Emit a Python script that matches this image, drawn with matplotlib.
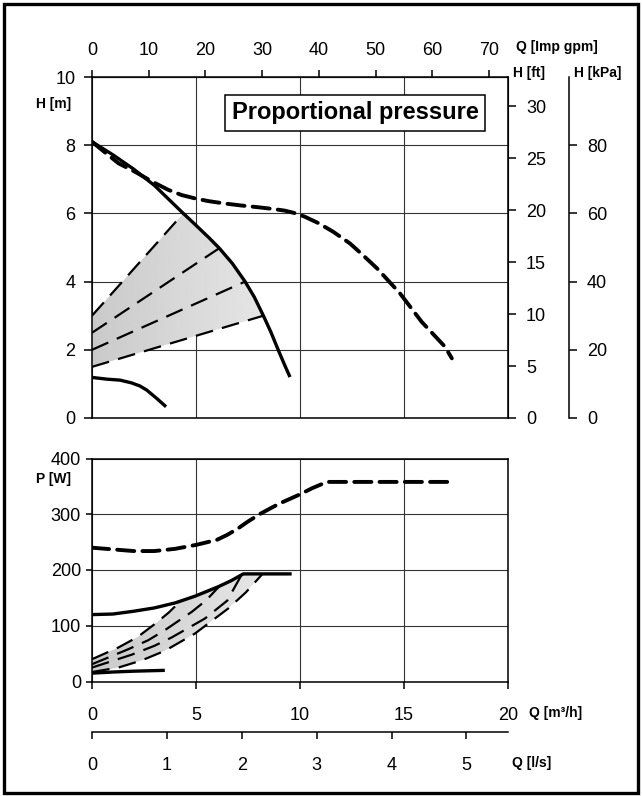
import numpy as np
import matplotlib
matplotlib.use('Agg')
import matplotlib.pyplot as plt
from matplotlib.patches import Polygon, Rectangle

plt.rcParams['font.family'] = ['Liberation Sans', 'DejaVu Sans']

# ---- H curves (Q in m3/h, H in m)
q_hmax = [0, 1.0, 2.0, 3.0, 4.0, 4.39, 5.0, 5.6, 6.12, 6.75, 7.36, 7.8, 8.24, 8.6, 8.95, 9.25, 9.52]
h_hmax = [8.1, 7.72, 7.3, 6.82, 6.23, 6.0, 5.65, 5.3, 4.98, 4.53, 4.0, 3.55, 3.0, 2.52, 2.0, 1.57, 1.2]

q_hdash = [0, 0.6, 1.27, 2.07, 2.9, 3.67, 4.3, 4.95, 5.6, 6.39, 7.2, 8.0, 8.7, 9.28, 9.8, 10.24, 10.9,
           11.6, 12.4, 13.0, 13.7, 14.8, 15.85, 16.97, 17.3]
h_hdash = [8.1, 7.8, 7.47, 7.22, 6.93, 6.69, 6.54, 6.44, 6.36, 6.29, 6.23, 6.18, 6.13, 6.08, 6.0, 5.9, 5.71,
           5.46, 5.12, 4.79, 4.39, 3.66, 2.82, 2.09, 1.75]

q_hmin = [0, 0.7, 1.35, 1.9, 2.3, 2.63, 3.1, 3.56]
h_hmin = [1.19, 1.14, 1.11, 1.03, 0.94, 0.82, 0.58, 0.33]

# proportional pressure lines: start head at Q=0, end point on max curve
pp_h0 = [3.0, 2.5, 2.0, 1.5]
pp_qend = [4.39, 6.12, 7.36, 8.24]
pp_hend = [6.0, 4.98, 4.0, 3.0]

# ---- P curves (W)
q_pdash = [0, 1.0, 2.0, 3.0, 4.0, 5.0, 6.0, 6.5, 7.0, 7.5, 8.1, 9.0, 9.9, 10.6, 11.3, 17.4]
p_pdash = [240, 237, 234, 234, 238, 245, 254, 263, 274, 287, 301, 319, 334, 347, 358, 358]

q_pmax = [0, 1.0, 2.0, 3.0, 4.0, 4.95, 6.07, 6.7, 7.27, 9.6]
p_pmax = [120, 121, 126, 132, 141, 153, 170, 181, 193, 193]

q_pmin = [0, 1.0, 2.0, 3.5]
p_pmin = [15, 17, 18.5, 20]

pp_q = [[0, 1.27, 2.2, 3.05, 3.7, 4.3],
        [0, 1.75, 2.7, 3.5, 4.8, 5.5, 6.1],
        [0, 1.9, 3.0, 3.83, 5.43, 6.5, 7.2],
        [0, 1.27, 2.4, 3.5, 4.95, 6.55, 7.4, 8.2]]
pp_p = [[40, 61, 80, 104, 124, 146],
        [31, 58, 74, 92, 125, 146, 170],
        [25, 48, 64, 79, 113, 145, 192],
        [17, 25, 38, 55, 86, 131, 160, 193]]

W, H = 642, 796
fig = plt.figure(figsize=(W / 100, H / 100), dpi=100)
fig.patches.append(Rectangle((4 / W, 3 / H), 634 / W, 789 / H, transform=fig.transFigure,
                             fill=False, lw=2.4, edgecolor='black'))

ax1 = fig.add_axes([92 / W, 1 - 418 / H, 416 / W, 341 / H])
ax2 = fig.add_axes([92 / W, 1 - 681.5 / H, 416 / W, 223 / H])

thick = dict(color='black', lw=2.4, solid_capstyle='butt', solid_joinstyle='round')
thickdash = dict(color='black', lw=2.8, dashes=(4.4, 2.1), dash_capstyle='round')
thindash = dict(color='black', lw=1.6, dashes=(8.0, 4.2))


def gradient_fill(ax, xs, ys):
    poly = Polygon(np.column_stack([xs, ys]), closed=True, facecolor='none', edgecolor='none')
    ax.add_patch(poly)
    grad = np.linspace(0.79, 0.9, 256).reshape(1, -1)
    im = ax.imshow(grad, cmap='gray', vmin=0, vmax=1, aspect='auto', interpolation='bilinear',
                   extent=[min(xs), max(xs), min(ys), max(ys)], zorder=1)
    im.set_clip_path(poly)


for ax in (ax1, ax2):
    ax.set_xlim(0, 20)
    ax.set_xticks([0, 5, 10, 15, 20])
    ax.grid(True, color='0.2', lw=0.8)
    ax.set_axisbelow(True)
    for s in ax.spines.values():
        s.set_linewidth(1.1)
    ax.tick_params(labelsize=13, direction='out', width=1.1)

# ---------- top axes
hq = np.array(q_hmax)
hh = np.array(h_hmax)
inside = (hq > pp_qend[0]) & (hq < pp_qend[-1])
xs = [0, pp_qend[0]] + list(hq[inside]) + [pp_qend[-1], 0]
ys = [pp_h0[0], pp_hend[0]] + list(hh[inside]) + [pp_hend[-1], pp_h0[-1]]
gradient_fill(ax1, xs, ys)

ax1.plot(q_hmax, h_hmax, zorder=4, **thick)
ax1.plot(q_hmin, h_hmin, zorder=4, **thick)
ax1.plot(q_hdash, h_hdash, zorder=4, **thickdash)
for h0, qe, he in zip(pp_h0, pp_qend, pp_hend):
    ax1.plot([0, qe], [h0, he], zorder=3, **thindash)

ax1.set_ylim(0, 10)
ax1.set_yticks([0, 2, 4, 6, 8, 10])
ax1.tick_params(axis='y', length=6, pad=6)
ax1.tick_params(axis='x', bottom=False, labelbottom=False)

gpm = ax1.secondary_xaxis('top', functions=(lambda q: q * 3.666, lambda g: g / 3.666))
gpm.set_xticks(range(0, 80, 10))
gpm.tick_params(labelsize=13, length=5, width=1.1, pad=8)

ft = ax1.secondary_yaxis('right', functions=(lambda m: m / 0.3048, lambda f: f * 0.3048))
ft.set_yticks(range(0, 35, 5))
ft.tick_params(labelsize=13, length=6, width=1.1, pad=7)

kpa = ax1.secondary_yaxis(477 / 416, functions=(lambda m: m * 10, lambda k: k / 10))
kpa.set_yticks(range(0, 100, 20))
kpa.tick_params(labelsize=13, length=6, width=1.1, pad=7)
kpa.spines['right'].set_linewidth(1.1)

ax1.text(12.65, 8.95, 'Proportional pressure', fontsize=17, fontweight='bold',
         ha='center', va='center', zorder=6,
         bbox=dict(boxstyle='square,pad=0.28', facecolor='white', edgecolor='black', lw=1.1))

# ---------- bottom axes
pq = np.array(q_pmax)
pv = np.array(p_pmax)
inside = (pq > pp_q[0][-1]) & (pq < pp_q[-1][-1])
xs = list(pp_q[0]) + list(pq[inside]) + list(pp_q[-1][::-1])
ys = list(pp_p[0]) + list(pv[inside]) + list(pp_p[-1][::-1])
gradient_fill(ax2, xs, ys)

ax2.plot(q_pmax, p_pmax, zorder=4, **thick)
ax2.plot(q_pmin, p_pmin, zorder=4, **thick)
ax2.plot(q_pdash, p_pdash, zorder=4, **thickdash)
for qq, pp in zip(pp_q, pp_p):
    ax2.plot(qq, pp, zorder=3, **thindash)

ax2.set_ylim(0, 400)
ax2.set_yticks([0, 100, 200, 300, 400])
ax2.tick_params(axis='y', length=4, pad=4)
ax2.tick_params(axis='x', length=5, pad=13)

ls = ax2.secondary_xaxis(-50.5 / 223, functions=(lambda q: q / 3.6, lambda l: l * 3.6))
ls.set_xticks(range(0, 6))
ls.tick_params(labelsize=13, length=5, width=1.1, pad=13)
ls.spines['bottom'].set_linewidth(1.1)

# ---------- unit labels
lab = dict(fontsize=10, fontweight='bold', va='center', ha='left')
fig.text(36 / W, 1 - 104 / H, 'H [m]', **lab)
fig.text(36 / W, 1 - 479 / H, 'P [W]', **lab)
fig.text(516 / W, 1 - 47 / H, 'Q [Imp gpm]', **lab)
fig.text(513 / W, 1 - 73 / H, 'H [ft]', **lab)
fig.text(574 / W, 1 - 73 / H, 'H [kPa]', **lab)
fig.text(529 / W, 1 - 713 / H, 'Q [m³/h]', **lab)
fig.text(512 / W, 1 - 763 / H, 'Q [l/s]', **lab)

fig.savefig('out.png', dpi=100, facecolor='white')
